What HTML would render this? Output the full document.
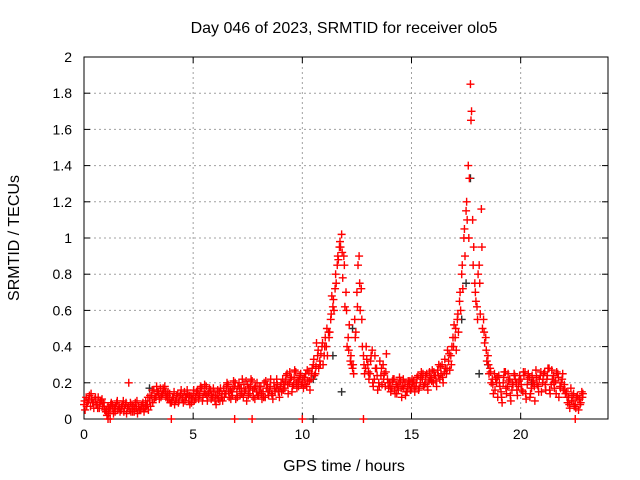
<!DOCTYPE html>
<html><head><meta charset="utf-8"><style>
html,body{margin:0;padding:0;background:#fff}
svg{display:block;font-family:"Liberation Sans",sans-serif}
</style></head><body>
<svg id="chart" width="640" height="480" viewBox="0 0 640 480" xmlns="http://www.w3.org/2000/svg">
<rect width="640" height="480" fill="#fff"/>
<g id="grid"></g>
<g id="axes"></g>
<g id="marks"></g>
<text x="344" y="33" text-anchor="middle" font-size="16">Day 046 of 2023, SRMTID for receiver olo5</text>
<text x="344" y="471" text-anchor="middle" font-size="16">GPS time / hours</text>
<text transform="translate(19,238) rotate(-90)" text-anchor="middle" font-size="16">SRMTID / TECUs</text>
</svg>
<script>
const xTicks=[0,5,10,15,20];
const yTicks=[0,0.2,0.4,0.6,0.8,1,1.2,1.4,1.6,1.8,2];
const yTickLabels=["0","0.2","0.4","0.6","0.8","1","1.2","1.4","1.6","1.8","2"];
const redStart=0.0, redStep=0.1;
const redA=[.08,.12,.10,.07,.09,.11,.08,.06,.10,.09,
.04,.07,.05,.08,.06,.09,.07,.05,.10,.08,
.06,.05,.08,.04,.06,.07,.05,.09,.06,.08,
.10,.13,.16,.12,.15,.17,.14,.18,.13,.11,
.09,.12,.10,.14,.13,.11,.15,.12,.10,.13,
.14,.12,.16,.13,.17,.15,.18,.14,.16,.12,
.10,.13,.15,.12,.17,.14,.19,.16,.13,.18,
.15,.20,.17,.12,.16,.19,.14,.21,.17,.15,
.13,.18,.15,.12,.19,.16,.14,.20,.17,.15,
.18,.22,.17,.25,.20,.23,.19,.26,.21,.24,
.20,.23,.18,.26,.22,.30,.25,.35,.32,.40,
.35,.40,.48,.55,.62,.72,.85,.95,1.02,.90,
.70,.45,.32,.28,.55,.70,.90,.72,.35,.28,
.30,.25,.38,.22,.28,.20,.24,.30,.18,.22,
.20,.17,.22,.19,.16,.21,.18,.20,.15,.19,
.17,.21,.18,.24,.20,.22,.19,.25,.21,.23,
.20,.24,.27,.22,.30,.26,.25,.32,.35,.45,
.45,.55,.65,.80,1.00,1.15,1.40,1.85,1.10,.75,
.62,.85,1.16,.55,.45,.35,.28,.22,.25,.20,
.24,.15,.20,.26,.18,.22,.16,.25,.20,.18,
.22,.15,.26,.19,.23,.17,.21,.27,.18,.24,
.20,.26,.22,.28,.19,.24,.21,.25,.18,.22,
.19,.15,.12,.17,.10,.08,.13,.11,.15];
const redB=[.05,.09,.13,.11,.06,.08,.12,.10,.07,.05,
.02,.06,.09,.03,.07,.05,.04,.08,.06,.03,
.20,.04,.07,.09,.03,.05,.08,.04,.07,.05,
.07,.09,.12,.15,.11,.13,.16,.12,.15,.09,
.12,.08,.13,.10,.16,.09,.12,.14,.08,.11,
.10,.15,.11,.18,.12,.14,.10,.17,.13,.15,
.08,.11,.17,.10,.14,.20,.12,.15,.21,.11,
.18,.13,.22,.15,.10,.17,.22,.12,.18,.13,
.16,.11,.20,.17,.13,.22,.11,.15,.19,.12,
.15,.19,.24,.14,.22,.18,.27,.17,.22,.19,
.17,.25,.21,.16,.28,.24,.42,.28,.36,.30,
.45,.35,.48,.68,.60,.75,.88,.95,.78,.62,
.40,.52,.30,.25,.48,.85,.60,.40,.25,.33,
.22,.35,.18,.28,.16,.32,.19,.25,.36,.17,
.15,.22,.14,.18,.23,.12,.17,.15,.21,.16,
.20,.15,.23,.17,.26,.18,.24,.16,.22,.27,
.24,.18,.30,.25,.20,.28,.38,.27,.40,.52,
.38,.48,.60,.72,.90,1.10,1.33,1.70,.95,.65,
.80,.58,.50,.42,.32,.25,.20,.14,.22,.12,
.18,.09,.26,.14,.21,.10,.19,.22,.13,.24,
.16,.24,.11,.25,.14,.20,.10,.19,.22,.15,
.25,.16,.28,.14,.22,.17,.26,.12,.20,.16,
.14,.09,.06,.13,.07,.12,.05,.09,.14];
const redC=[.10,.07,.11,.14,.09,.12,.06,.09,.11,.07,
.05,.03,.08,.06,.04,.10,.06,.07,.04,.09,
.07,.09,.04,.06,.10,.05,.07,.06,.10,.12,
.13,.16,.11,.18,.14,.12,.17,.15,.11,.14,
.10,.15,.11,.09,.14,.12,.10,.16,.13,.09,
.16,.11,.14,.17,.10,.19,.13,.15,.11,.17,
.13,.16,.10,.14,.12,.18,.15,.11,.17,.20,
.12,.17,.14,.19,.21,.13,.18,.16,.11,.20,
.18,.14,.12,.21,.15,.18,.13,.17,.22,.16,
.20,.16,.21,.19,.26,.15,.23,.20,.18,.25,
.22,.19,.27,.21,.25,.33,.29,.38,.30,.42,
.40,.50,.45,.58,.66,.80,.90,.98,.92,.85,
.60,.38,.35,.30,.45,.62,.75,.55,.30,.40,
.26,.32,.20,.35,.24,.18,.28,.22,.26,.20,
.18,.21,.16,.14,.20,.17,.22,.13,.18,.21,
.22,.18,.20,.16,.23,.25,.20,.18,.26,.21,
.26,.21,.24,.29,.23,.33,.28,.36,.30,.40,
.50,.58,.70,.85,1.05,1.20,1.00,1.65,.85,.70,
.55,.75,.95,.48,.38,.30,.26,.19,.16,.23,
.20,.12,.23,.17,.25,.13,.20,.24,.16,.21,
.19,.26,.14,.22,.12,.24,.18,.23,.15,.26,
.22,.19,.24,.16,.27,.20,.14,.23,.17,.25,
.16,.12,.08,.10,.14,.06,.11,.08,.12];
const redZeroHours=[1.1,1.2,4.0,6.9,7.7,10.0,12.8,22.5];
const blackHours=[3.0,10.5,11.4,11.8,12.3,17.3,17.5,17.7,18.1,18.5,20.5,10.5];
const blackTEC=[.17,.22,.35,.15,.50,.55,.75,1.33,.25,.30,.20,0];

const L=84,R=608,T=57,B=419,XMAX=24,YMAX=2;
const xs=v=>L+(v/XMAX)*(R-L);
const ys=v=>B-(v/YMAX)*(B-T);
const NS="http://www.w3.org/2000/svg";
function mk(tag,attrs,parent){const e=document.createElementNS(NS,tag);for(const k in attrs)e.setAttribute(k,attrs[k]);parent.appendChild(e);return e;}
const grid=document.getElementById('grid'),axes=document.getElementById('axes'),marks=document.getElementById('marks');
xTicks.forEach(t=>{
  const x=xs(t);
  if(t>0){const g=mk('line',{x1:x,y1:T,x2:x,y2:B,stroke:'#a0a0a0','stroke-dasharray':'2,3'},grid);
  
  }
  mk('line',{x1:x,y1:B,x2:x,y2:B-6,stroke:'#000'},axes);
  mk('line',{x1:x,y1:T,x2:x,y2:T+6,stroke:'#000'},axes);
  const tx=mk('text',{x:x,y:B+20,'text-anchor':'middle','font-size':14},axes);
  tx.textContent=t;
  
  
});
yTicks.forEach((t,i)=>{
  const y=ys(t);
  if(t>0&&t<YMAX){const g=mk('line',{x1:L,y1:y,x2:R,y2:y,stroke:'#a0a0a0','stroke-dasharray':'2,3'},grid);
  
  }
  mk('line',{x1:L,y1:y,x2:L+6,y2:y,stroke:'#000'},axes);
  mk('line',{x1:R,y1:y,x2:R-6,y2:y,stroke:'#000'},axes);
  const tx=mk('text',{x:L-12,y:y+5,'text-anchor':'end','font-size':14},axes);
  tx.textContent=yTickLabels[i];
  
  
});
const fr=mk('rect',{x:L,y:T,width:R-L,height:B-T,fill:'none',stroke:'#000'},axes);


function plus(h,v,col){
  const x=xs(h),y=ys(v);
  const p=mk('path',{d:`M${x-4},${y}h8M${x},${y-4}v8`,stroke:col,'stroke-width':1.4,fill:'none'},marks);
  
  
}
blackHours.forEach((h,i)=>plus(h,blackTEC[i],'#303030'));
redA.forEach((v,i)=>plus(redStart+i*redStep,v,'#ff0000'));
redB.forEach((v,i)=>plus(redStart+0.05+i*redStep,v,'#ff0000'));
redC.forEach((v,i)=>plus(redStart+0.025+i*redStep,v,'#ff0000'));
redZeroHours.forEach(h=>plus(h,0,'#ff0000'));
</script>
</body></html>
